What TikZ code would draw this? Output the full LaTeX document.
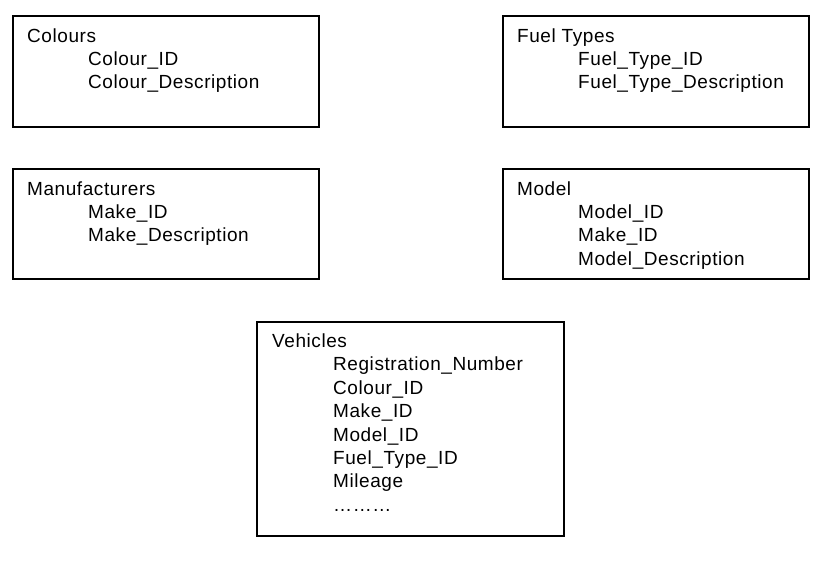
\documentclass[tikz,border=0pt]{standalone}
\usepackage{fontspec}
\setmainfont{Liberation Sans}[LetterSpace=3]
\begin{document}
\begin{tikzpicture}[x=1pt,y=-1pt,
  entity/.style={draw=black, line width=1.5pt, rectangle, inner sep=0pt, outer sep=0pt, anchor=north west, minimum width=306pt},
  txt/.style={inner sep=0pt, anchor=base west, font=\fontsize{19}{23}\selectfont}]
\useasboundingbox (0,0) rectangle (822,563);
% boxes
\node[entity, minimum height=111pt] (colours) at (13,16) {};
\node[entity, minimum height=111pt] (fuel) at (503,16) {};
\node[entity, minimum height=110pt] (manuf) at (13,169) {};
\node[entity, minimum height=110pt] (model) at (503,169) {};
\node[entity, minimum height=214pt, minimum width=307pt] (veh) at (257,322) {};
% Colours
\node[txt] (c0) at ([shift={(14,26)}]colours.north west) {Colours};
\node[txt] (c1) at ([shift={(75,49.4)}]colours.north west) {Colour\_ID};
\node[txt] (c2) at ([shift={(75,72.8)}]colours.north west) {Colour\_Description};
% Fuel Types
\node[txt] (f0) at ([shift={(14,26)}]fuel.north west) {Fuel Types};
\node[txt] (f1) at ([shift={(75,49.4)}]fuel.north west) {Fuel\_Type\_ID};
\node[txt] (f2) at ([shift={(75,72.8)}]fuel.north west) {Fuel\_Type\_Description};
% Manufacturers
\node[txt] (m0) at ([shift={(14,26)}]manuf.north west) {Manufacturers};
\node[txt] (m1) at ([shift={(75,49.4)}]manuf.north west) {Make\_ID};
\node[txt] (m2) at ([shift={(75,72.8)}]manuf.north west) {Make\_Description};
% Model
\node[txt] (d0) at ([shift={(14,26)}]model.north west) {Model};
\node[txt] (d1) at ([shift={(75,49.4)}]model.north west) {Model\_ID};
\node[txt] (d2) at ([shift={(75,72.8)}]model.north west) {Make\_ID};
\node[txt] (d3) at ([shift={(75,96.2)}]model.north west) {Model\_Description};
% Vehicles
\node[txt] (v0) at ([shift={(15,25.5)}]veh.north west) {Vehicles};
\node[txt] (v1) at ([shift={(76,48.9)}]veh.north west) {Registration\_Number};
\node[txt] (v2) at ([shift={(76,72.3)}]veh.north west) {Colour\_ID};
\node[txt] (v3) at ([shift={(76,95.7)}]veh.north west) {Make\_ID};
\node[txt] (v4) at ([shift={(76,119.1)}]veh.north west) {Model\_ID};
\node[txt] (v5) at ([shift={(76,142.5)}]veh.north west) {Fuel\_Type\_ID};
\node[txt] (v6) at ([shift={(76,165.9)}]veh.north west) {Mileage};
\node[txt] (v7) at ([shift={(76,189.3)}]veh.north west) {………};
\end{tikzpicture}
\end{document}
